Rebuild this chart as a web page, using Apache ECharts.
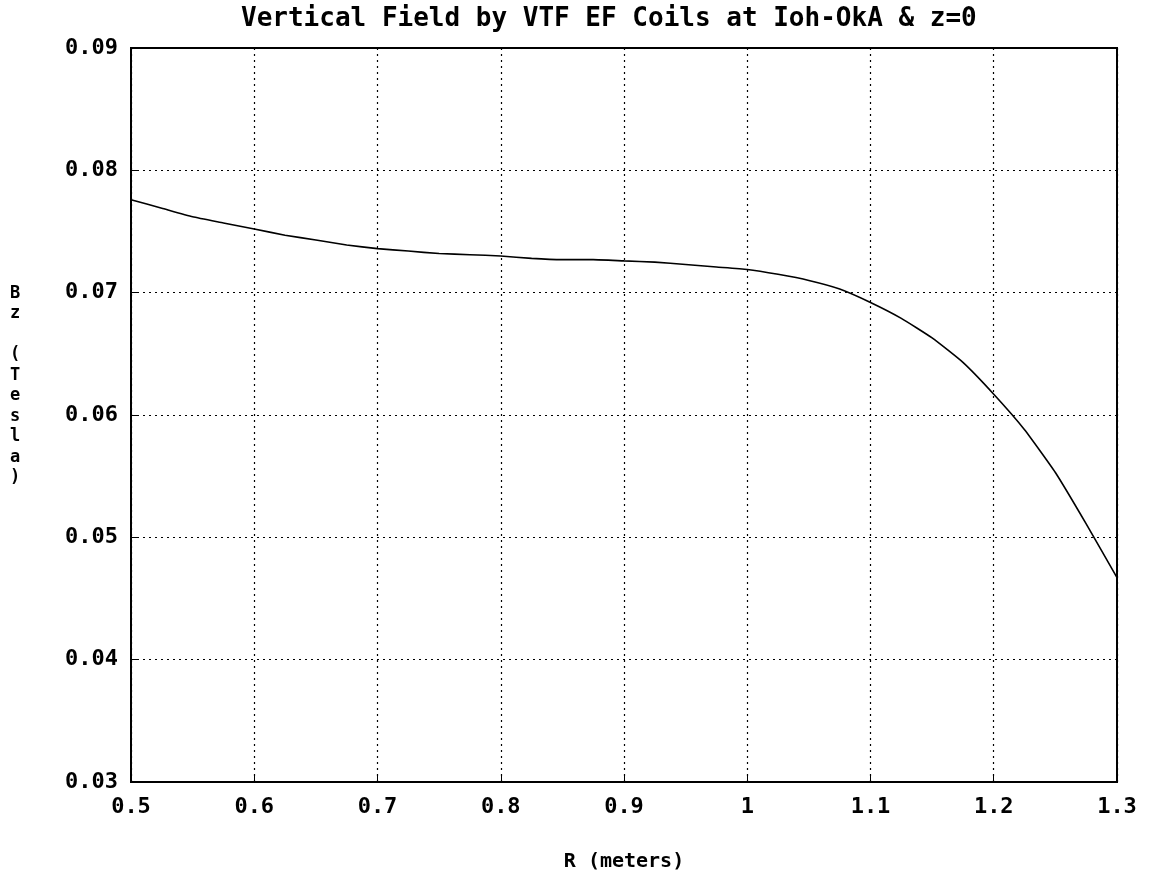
<!DOCTYPE html>
<html>
<head>
  <meta charset="utf-8">
  <title>Vertical Field</title>
  <script src="https://cdn.jsdelivr.net/npm/echarts@6/dist/echarts.min.js"></script>
</head>
<body style="margin:0;background:#fff">
  <div id="container" style="height: 877px; width: 1149px"></div>
  <script>
    // R in meters, Bz in Tesla
    var rValues = [0.5, 0.525, 0.55, 0.575, 0.6, 0.625, 0.65, 0.675, 0.7, 0.725, 0.75,
                   0.775, 0.8, 0.825, 0.85, 0.875, 0.9, 0.925, 0.95, 0.975, 1.0,
                   1.025, 1.05, 1.075, 1.1, 1.125, 1.15, 1.175, 1.2, 1.225, 1.25, 1.275, 1.3];
    var bzValues = [0.0776, 0.0769, 0.0762, 0.0757, 0.0752, 0.0747, 0.0743, 0.0739, 0.0736, 0.0734, 0.0732,
                    0.0731, 0.0730, 0.0728, 0.0727, 0.0727, 0.0726, 0.0725, 0.0723, 0.0721, 0.0719,
                    0.0715, 0.0710, 0.0703, 0.0692, 0.0679, 0.0663, 0.0643, 0.0617, 0.0588, 0.0553, 0.0511, 0.0467];

    var titleText = 'Vertical Field by VTF EF Coils at Ioh-OkA & z=0';
    var xName = 'R (meters)';
    var yName = 'Bz (Tesla)';

    var font = '"DejaVu Sans Mono", "Liberation Mono", monospace';
    var pts = rValues.map(function (r, i) { return [r, bzValues[i]]; });

    var myChart = echarts.init(document.getElementById('container'));
    var option = {
      backgroundColor: '#fff',
      animation: false,
      title: {
        text: titleText,
        left: 236,
        top: 1,
        textStyle: { fontFamily: font, fontWeight: 'bold', fontSize: 26, color: '#000' }
      },
      // y axis name is drawn one letter per line, as in the original
      graphic: [{
        type: 'text',
        left: 10,
        top: 283,
        style: {
          text: yName.split('').join('\n'),
          font: 'bold 17px ' + font,
          fill: '#000',
          lineHeight: 20.5,
          align: 'center'
        }
      }],
      grid: {
        left: 131, right: 32, top: 48, bottom: 95,
        outerBoundsMode: 'none',
        containLabel: false,
        show: true, borderColor: '#000', borderWidth: 2
      },
      xAxis: {
        type: 'value',
        min: 0.5, max: 1.3, interval: 0.1,
        name: xName,
        nameLocation: 'middle',
        nameGap: 70,
        nameTextStyle: { fontFamily: font, fontWeight: 'bold', fontSize: 20, color: '#000' },
        axisLine: { lineStyle: { color: '#000', width: 2 } },
        axisTick: { inside: true, length: 6, lineStyle: { color: '#000' } },
        axisLabel: { fontFamily: font, fontWeight: 'bold', fontSize: 22, color: '#000', margin: 14,
          formatter: function (v) { return String(Math.round(v * 10) / 10); } },
        splitLine: { lineStyle: { color: '#000', type: [2, 4], width: 1.2 } }
      },
      yAxis: {
        type: 'value',
        min: 0.03, max: 0.09, interval: 0.01,
        axisLine: { lineStyle: { color: '#000', width: 2 } },
        axisTick: { inside: true, length: 6, lineStyle: { color: '#000' } },
        axisLabel: { fontFamily: font, fontWeight: 'bold', fontSize: 22, color: '#000', margin: 13,
          formatter: function (v) { return v.toFixed(2); } },
        splitLine: { lineStyle: { color: '#000', type: [2, 4], width: 1.2 } }
      },
      series: [{
        type: 'line',
        data: pts,
        showSymbol: false,
        smooth: 0.15,
        lineStyle: { color: '#000', width: 1.6 }
      }]
    };
    myChart.setOption(option);
  </script>
</body>
</html>
